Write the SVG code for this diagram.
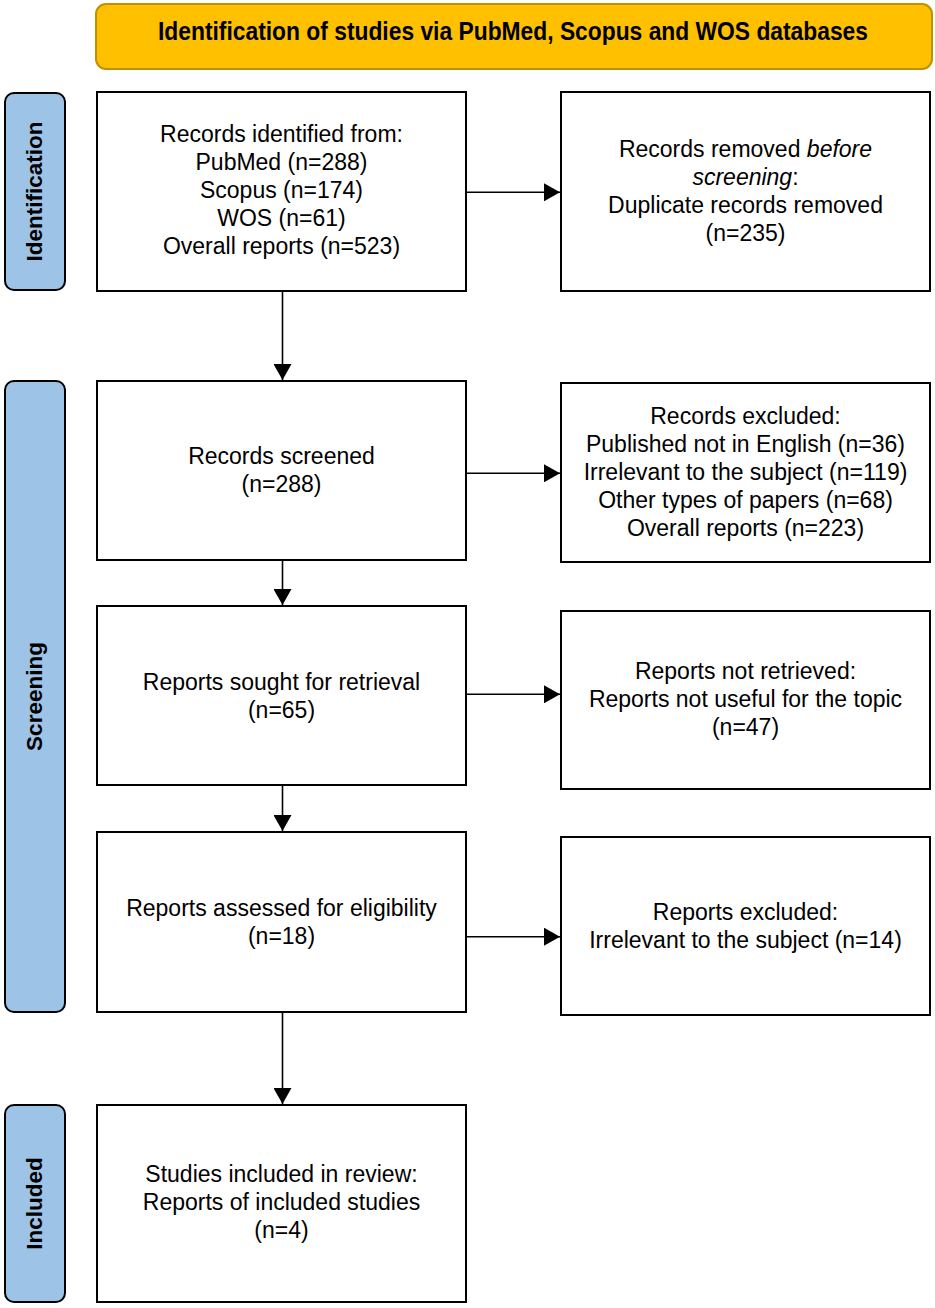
<svg xmlns="http://www.w3.org/2000/svg" width="935" height="1308" viewBox="0 0 935 1308">
<style>
.box{fill:#ffffff;stroke:#000000;stroke-width:2}
.side{fill:#9DC3E6;stroke:#000000;stroke-width:2}
.hdr{fill:#FFC000;stroke:#BF9000;stroke-width:2}
.t{font-family:"Liberation Sans",Arial,sans-serif;font-size:23px;fill:#000000;text-anchor:middle}
.s{font-family:"Liberation Sans",Arial,sans-serif;font-size:22.5px;font-weight:bold;fill:#000000;text-anchor:middle}
.h{font-family:"Liberation Sans",Arial,sans-serif;font-size:25px;font-weight:bold;fill:#000000;text-anchor:middle}
.c{stroke:#000000;stroke-width:1.6;fill:none}
</style>
<defs>
<marker id="ah" markerUnits="userSpaceOnUse" markerWidth="16" markerHeight="18" refX="16" refY="9" orient="auto">
<path d="M0,0 L16,9 L0,18 Z" fill="#000000"/>
</marker>
</defs>
<g id="header">
<rect class="hdr" x="96" y="4" width="836" height="65" rx="10"/>
<text class="h" x="513" y="40" textLength="710" lengthAdjust="spacingAndGlyphs">Identification of studies via PubMed, Scopus and WOS databases</text>
</g>
<g id="label-identification">
<rect class="side" x="5" y="93" width="60" height="197" rx="9"/>
<text class="s" transform="translate(42,191.5) rotate(-90)">Identification</text>
</g>
<g id="label-screening">
<rect class="side" x="5" y="381" width="60" height="631" rx="9"/>
<text class="s" transform="translate(42,696.5) rotate(-90)">Screening</text>
</g>
<g id="label-included">
<rect class="side" x="5" y="1105" width="60" height="197" rx="9"/>
<text class="s" transform="translate(42,1203.5) rotate(-90)">Included</text>
</g>
<g id="records-identified">
<rect class="box" x="97" y="92" width="369" height="199"/>
<text class="t" x="281.5" y="142">Records identified from:</text>
<text class="t" x="281.5" y="170">PubMed (n=288)</text>
<text class="t" x="281.5" y="198">Scopus (n=174)</text>
<text class="t" x="281.5" y="226">WOS (n=61)</text>
<text class="t" x="281.5" y="254">Overall reports (n=523)</text>
</g>
<g id="records-removed">
<rect class="box" x="561" y="92" width="369" height="199"/>
<text class="t" x="745.5" y="157">Records removed <tspan font-style="italic">before</tspan></text>
<text class="t" x="745.5" y="185"><tspan font-style="italic">screening</tspan>:</text>
<text class="t" x="745.5" y="213">Duplicate records removed</text>
<text class="t" x="745.5" y="241">(n=235)</text>
</g>
<g id="records-screened">
<rect class="box" x="97" y="381" width="369" height="179"/>
<text class="t" x="281.5" y="464">Records screened</text>
<text class="t" x="281.5" y="492">(n=288)</text>
</g>
<g id="records-excluded">
<rect class="box" x="561" y="383" width="369" height="179"/>
<text class="t" x="745.5" y="424">Records excluded:</text>
<text class="t" x="745.5" y="452">Published not in English (n=36)</text>
<text class="t" x="745.5" y="480">Irrelevant to the subject (n=119)</text>
<text class="t" x="745.5" y="508">Other types of papers (n=68)</text>
<text class="t" x="745.5" y="536">Overall reports (n=223)</text>
</g>
<g id="reports-sought">
<rect class="box" x="97" y="606" width="369" height="179"/>
<text class="t" x="281.5" y="690">Reports sought for retrieval</text>
<text class="t" x="281.5" y="718">(n=65)</text>
</g>
<g id="reports-not-retrieved">
<rect class="box" x="561" y="611" width="369" height="178"/>
<text class="t" x="745.5" y="679">Reports not retrieved:</text>
<text class="t" x="745.5" y="707">Reports not useful for the topic</text>
<text class="t" x="745.5" y="735">(n=47)</text>
</g>
<g id="reports-assessed">
<rect class="box" x="97" y="832" width="369" height="180"/>
<text class="t" x="281.5" y="916">Reports assessed for eligibility</text>
<text class="t" x="281.5" y="944">(n=18)</text>
</g>
<g id="reports-excluded">
<rect class="box" x="561" y="837" width="369" height="178"/>
<text class="t" x="745.5" y="920">Reports excluded:</text>
<text class="t" x="745.5" y="948">Irrelevant to the subject (n=14)</text>
</g>
<g id="studies-included">
<rect class="box" x="97" y="1105" width="369" height="197"/>
<text class="t" x="281.5" y="1182">Studies included in review:</text>
<text class="t" x="281.5" y="1210">Reports of included studies</text>
<text class="t" x="281.5" y="1238">(n=4)</text>
</g>
<g id="connectors">
<line class="c" x1="466" y1="192.3" x2="560" y2="192.3" marker-end="url(#ah)"/>
<line class="c" x1="466" y1="473.3" x2="560" y2="473.3" marker-end="url(#ah)"/>
<line class="c" x1="466" y1="694.3" x2="560" y2="694.3" marker-end="url(#ah)"/>
<line class="c" x1="466" y1="936.7" x2="560" y2="936.7" marker-end="url(#ah)"/>
<line class="c" x1="282.5" y1="291" x2="282.5" y2="380" marker-end="url(#ah)"/>
<line class="c" x1="282.5" y1="560" x2="282.5" y2="605" marker-end="url(#ah)"/>
<line class="c" x1="282.5" y1="785" x2="282.5" y2="831" marker-end="url(#ah)"/>
<line class="c" x1="282.5" y1="1012" x2="282.5" y2="1104" marker-end="url(#ah)"/>
</g>
</svg>
